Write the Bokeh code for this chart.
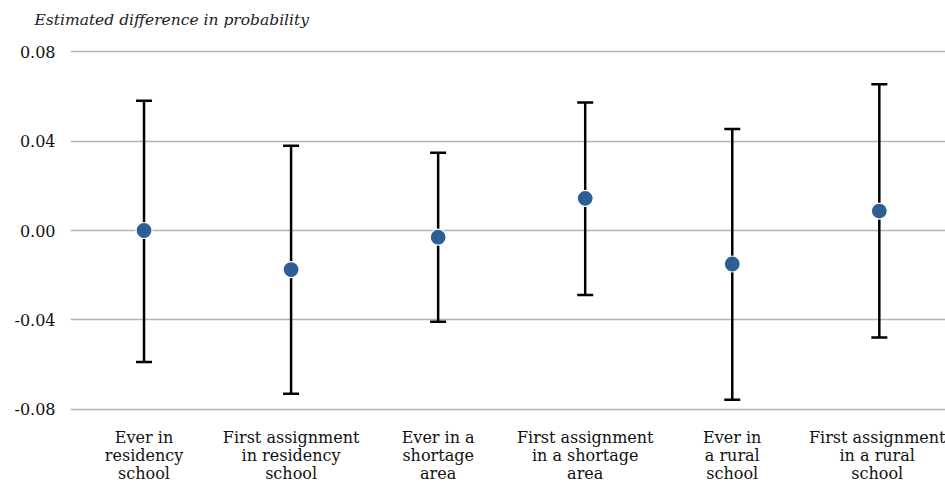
from bokeh.plotting import figure
from bokeh.models import ColumnDataSource, Whisker, TeeHead, FixedTicker, Range1d, Title
from bokeh.embed import file_html
from bokeh.resources import INLINE

categories = [
    "Ever in\nresidency\nschool",
    "First assignment\nin residency\nschool",
    "Ever in a\nshortage\narea",
    "First assignment\nin a shortage\narea",
    "Ever in\na rural\nschool",
    "First assignment\nin a rural\nschool",
]
estimates = [0.000, -0.0175, -0.003, 0.0144, -0.015, 0.0087]
upper = [0.0581, 0.0380, 0.0348, 0.0574, 0.0455, 0.0655]
lower = [-0.0589, -0.0731, -0.0409, -0.0289, -0.0758, -0.0480]
y_ticks = [-0.08, -0.04, 0.0, 0.04, 0.08]
y_tick_labels = ["-0.08", "-0.04", "0.00", "0.04", "0.08"]
y_title = "Estimated difference in probability"

xs = list(range(len(categories)))
src = ColumnDataSource(dict(x=xs, y=estimates, hi=upper, lo=lower))

FONT = "DejaVu Serif"

p = figure(width=945, height=487, output_backend="svg", toolbar_location=None,
           x_range=Range1d(-0.5, 5.45), y_range=Range1d(-0.082, 0.082),
           min_border_left=70, min_border_right=0, min_border_bottom=74, min_border_top=0)

# real title (outermost)
p.title.text = y_title
p.title.text_font = FONT
p.title.text_font_style = "italic"
p.title.text_font_size = "15.5px"
p.title.text_color = "#222222"
p.title.align = "left"
p.title.offset = -36
p.title.standoff = 17

# spacer title, placed between the real title and the frame
p.add_layout(Title(text=" ", text_font_size="1px", standoff=7), "above")

p.outline_line_color = None

p.xgrid.visible = False
p.ygrid.grid_line_color = "#b4b4b4"
p.ygrid.grid_line_width = 1.3

p.yaxis.ticker = FixedTicker(ticks=y_ticks)
p.yaxis.major_label_overrides = {t: l for t, l in zip(y_ticks, y_tick_labels)}
p.xaxis.ticker = FixedTicker(ticks=xs)
p.xaxis.major_label_overrides = {x: c for x, c in zip(xs, categories)}

for ax in (p.xaxis[0], p.yaxis[0]):
    ax.axis_line_color = None
    ax.major_tick_line_color = None
    ax.minor_tick_line_color = None
    ax.major_tick_out = 0
    ax.major_tick_in = 0
    ax.major_label_text_font = FONT
    ax.major_label_text_font_size = "16px"
    ax.major_label_text_color = "#111111"
p.xaxis.major_label_text_line_height = 0.95
p.yaxis.major_label_standoff = 15
p.xaxis.major_label_standoff = 14

w = Whisker(source=src, base="x", upper="hi", lower="lo", dimension="height",
            line_color="black", line_width=2.5,
            upper_head=TeeHead(size=16, line_color="black", line_width=2.5),
            lower_head=TeeHead(size=16, line_color="black", line_width=2.5))
p.add_layout(w)

p.scatter("x", "y", source=src, size=16, fill_color="#2d5f96", line_color="white", line_width=1.2)

open("out.html", "w").write(file_html(p, INLINE))
